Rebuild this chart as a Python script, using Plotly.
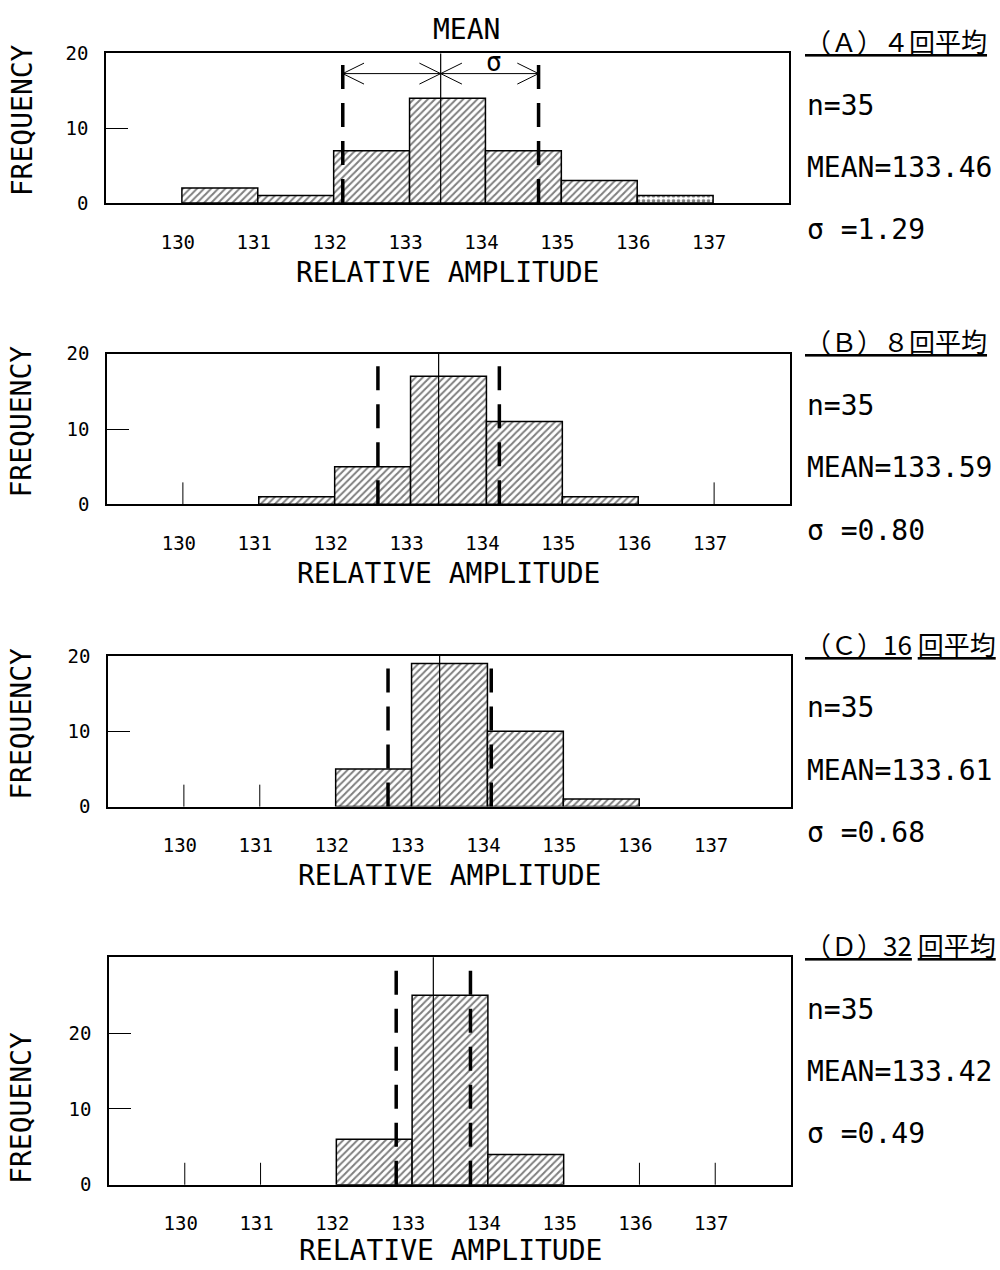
import plotly.graph_objects as go

# ---------------- data ----------------
bin_left = [130, 131, 132, 133, 134, 135, 136]
tick_values = [130, 131, 132, 133, 134, 135, 136, 137]
tick_labels = ["130", "131", "132", "133", "134", "135", "136", "137"]

counts_A = [2, 1, 7, 14, 7, 3, 1]
counts_B = [0, 1, 5, 17, 11, 1, 0]
counts_C = [0, 0, 5, 19, 10, 1, 0]
counts_D = [0, 0, 6, 25, 4, 0, 0]

headers = ["<u>（Ａ）４回平均</u>", "<u>（Ｂ）８回平均</u>",
           "<u>（Ｃ）16</u> <u>回平均</u>", "<u>（Ｄ）32</u> <u>回平均</u>"]
n_values = [35, 35, 35, 35]
mean_texts = ["133.46", "133.59", "133.61", "133.42"]
sigma_values = [1.29, 0.80, 0.68, 0.49]
# position of the mean line as drawn in the figure
drawn_mean = [133.41, 133.37, 133.37, 133.28]
y_max = [20, 20, 20, 30]
y_ticks = [0, 10, 20]
extra_x_ticks = [[], [130, 137], [130, 131], [130, 131, 136, 137]]
pattern_A = ["/", "/", "/", "/", "/", "/", "."]

all_counts = [counts_A, counts_B, counts_C, counts_D]

# ---------------- layout geometry (px) ----------------
W, H = 1000, 1270
boxes = [(106, 789, 52, 202), (107, 790, 353, 504),
         (108, 791, 656, 807), (109, 791, 958, 1186)]
title_offsets = [70, 69, 69, 66]
FONT = "DejaVu Sans Mono"
JFONT = "Noto Sans CJK JP"

fig = go.Figure()
layout = dict(width=W, height=H, margin=dict(l=0, r=0, t=0, b=0),
              paper_bgcolor="white", plot_bgcolor="white", showlegend=False)
shapes = []
annotations = []


def py(px):
    # vertical pixel -> paper fraction (with empirical page correction)
    return 1 - ((px - 9.5) / 0.985) / H


for i, cnt in enumerate(all_counts):
    sfx = "" if i == 0 else str(i + 1)
    xa, ya = "x" + sfx, "y" + sfx
    l, r, t, b = boxes[i]
    xs = [x for x, c in zip(bin_left, cnt) if c > 0]
    ys = [c for c in cnt if c > 0]
    pats = [p for p, c in zip(pattern_A, cnt) if c > 0] if i == 0 else "/"
    fig.add_trace(go.Bar(
        x=xs, y=ys, width=1, offset=0, xaxis=xa, yaxis=ya,
        marker=dict(color="white", line=dict(color="black", width=1.5),
                    pattern=dict(shape=pats, fgcolor="black", bgcolor="white",
                                 size=5, solidity=0.4)),
        hoverinfo="skip"))
    layout["xaxis" + sfx] = dict(
        domain=[l / W, r / W], range=[129, 138], anchor=ya,
        showline=True, mirror=True, linecolor="black", linewidth=1.5,
        showgrid=False, zeroline=False, ticks="",
        tickvals=tick_values, ticktext=tick_labels,
        tickfont=dict(family=FONT, size=19, color="black"),
        ticklabelstandoff=21, ticklabelshift=-4)
    layout["yaxis" + sfx] = dict(
        domain=[py(b), py(t)], range=[0, y_max[i]], anchor=xa,
        showline=True, mirror=True, linecolor="black", linewidth=1.5,
        showgrid=False, zeroline=False, ticks="inside", ticklen=22,
        tickwidth=1, tickcolor="black", tickvals=y_ticks,
        tickfont=dict(family=FONT, size=19, color="black"),
        ticklabelstandoff=12)

    m = drawn_mean[i]
    s = sigma_values[i]
    shapes.append(dict(type="line", xref=xa, yref=ya + " domain", x0=m, x1=m,
                       y0=0, y1=1, line=dict(color="black", width=1.2),
                       layer="above"))
    for xv in (m - s, m + s):
        shapes.append(dict(type="line", xref=xa, yref=ya + " domain", x0=xv, x1=xv,
                           y0=0, y1=1, line=dict(color="black", width=3.5,
                                                 dash="24px,14px"),
                           layer="above"))
    for xv in extra_x_ticks[i]:
        shapes.append(dict(type="line", xref=xa, yref=ya + " domain", x0=xv, x1=xv,
                           y0=0, y1=22 / (b - t),
                           line=dict(color="black", width=1), layer="above"))

    # axis titles
    annotations.append(dict(text="RELATIVE AMPLITUDE", xref="paper", yref="paper",
                            x=(l + r) / 2 / W, y=py(b + title_offsets[i]),
                            xanchor="center", yanchor="middle", showarrow=False,
                            font=dict(family=FONT, size=28, color="black")))
    annotations.append(dict(text="FREQUENCY", xref="paper", yref="paper",
                            x=22 / W, y=py(b - 83 if i < 3 else b - 77),
                            xanchor="center", yanchor="middle", textangle=-90,
                            showarrow=False,
                            font=dict(family=FONT, size=28, color="black")))
    # stats text on the right
    annotations.append(dict(text=headers[i], xref="paper", yref="paper",
                            x=803 / W, y=py(t - 13), xanchor="left", yanchor="middle",
                            showarrow=False,
                            font=dict(family=JFONT, size=26, color="black")))
    stats = ["n=%d" % n_values[i], "MEAN=" + mean_texts[i], "σ =%.2f" % s]
    for k, txt in enumerate(stats):
        annotations.append(dict(text=txt, xref="paper", yref="paper",
                                x=805 / W, y=py(t + 52 + 62.5 * k), xanchor="left",
                                yanchor="middle", showarrow=False,
                                font=dict(family=FONT, size=28, color="black")))

# panel A: sigma arrows (open chevrons) drawn as thin lines
mA, sA = drawn_mean[0], sigma_values[0]
lo, hi = mA - sA, mA + sA
arrow_y = 17.3
dx, dy = 0.28, 1.4
ax_pts, ay_pts = [lo, hi, None], [arrow_y, arrow_y, None]
for tip, direction in ((lo, 1), (mA, -1), (mA, 1), (hi, -1)):
    ax_pts += [tip + direction * dx, tip, tip + direction * dx, None]
    ay_pts += [arrow_y + dy, arrow_y, arrow_y - dy, None]
fig.add_trace(go.Scatter(x=ax_pts, y=ay_pts, mode="lines", xaxis="x", yaxis="y",
                         line=dict(color="black", width=1), hoverinfo="skip"))

annotations.append(dict(text="MEAN", xref="x", yref="paper", x=mA, xshift=26,
                        y=py(28), xanchor="center", yanchor="middle",
                        showarrow=False, font=dict(family=FONT, size=28, color="black")))
annotations.append(dict(text="σ", xref="x", yref="y", x=(mA + hi) / 2, xshift=4,
                        y=arrow_y, yanchor="bottom", yshift=-5, showarrow=False,
                        font=dict(family=FONT, size=26, color="black")))

layout["shapes"] = shapes
layout["annotations"] = annotations
fig.update_layout(**layout)
fig.write_html("out.html")
